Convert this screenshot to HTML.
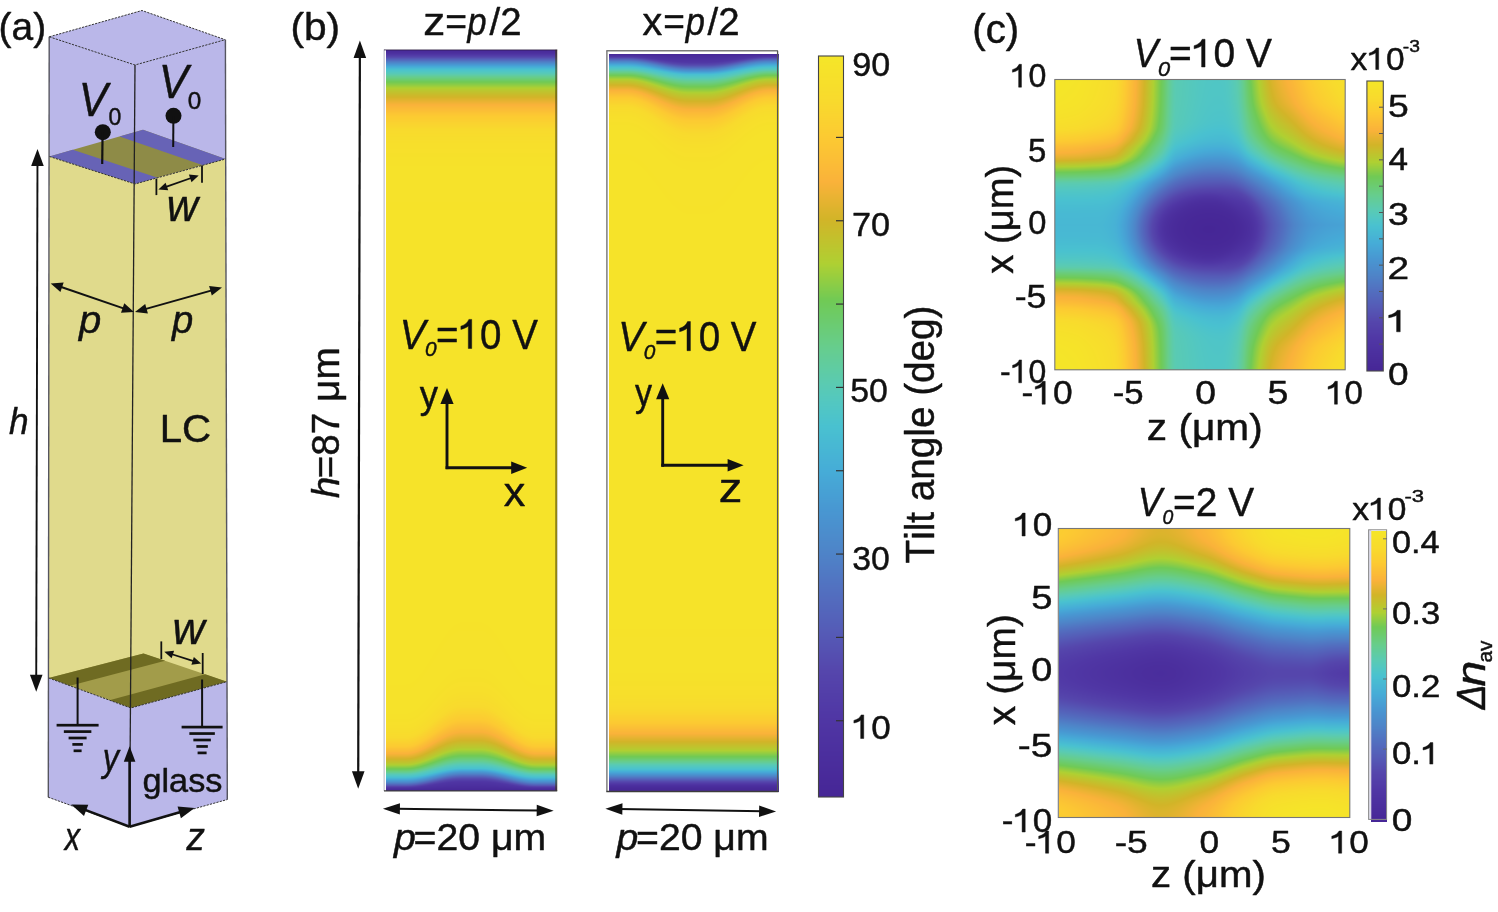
<!DOCTYPE html>
<html><head><meta charset="utf-8"><style>
html,body{margin:0;padding:0;background:#fff;}
#wrap{position:relative;width:1498px;height:912px;overflow:hidden;background:#fff;}
.hm{position:absolute;}
canvas{position:absolute;left:0;top:0;display:block;}
svg{position:absolute;left:0;top:0;}
text{font-family:"Liberation Sans",sans-serif;font-kerning:none;stroke:#111;stroke-width:0.45px;stroke-linejoin:round;}
.g1{stroke:#111;stroke-width:0.45px;stroke-linejoin:round;vector-effect:non-scaling-stroke;}
</style></head><body><div id="wrap">

<div class="hm" style="left:386px;top:50px;width:171px;height:741px;background:linear-gradient(to bottom,rgb(70,38,150) 0px,rgb(85,90,182) 8px,rgb(73,193,208) 20px,rgb(112,202,85) 32px,rgb(210,180,40) 47px,rgb(250,178,58) 56px,rgb(252,202,50) 66px,rgb(248,218,45) 80px,rgb(245,228,41) 110px,rgb(245,228,41) 653px,rgb(248,218,45) 677px,rgb(252,202,50) 688px,rgb(250,178,58) 696px,rgb(210,180,40) 703px,rgb(112,202,85) 715px,rgb(73,193,208) 725px,rgb(85,90,182) 735px,rgb(70,38,150) 741px)"><canvas id="b1" width="171" height="741"></canvas></div>
<div class="hm" style="left:609px;top:53.5px;width:170px;height:738px;background:linear-gradient(to bottom,rgb(70,38,150) 0px,rgb(85,90,182) 6px,rgb(73,193,208) 16px,rgb(112,202,85) 26px,rgb(210,180,40) 38px,rgb(250,178,58) 45px,rgb(252,202,50) 53px,rgb(248,218,45) 64px,rgb(245,228,41) 88px,rgb(245,228,41) 628px,rgb(248,218,45) 658px,rgb(252,202,50) 672px,rgb(250,178,58) 682px,rgb(210,180,40) 691px,rgb(112,202,85) 706px,rgb(73,193,208) 718px,rgb(85,90,182) 730px,rgb(70,38,150) 738px)"><canvas id="b2" width="170" height="738"></canvas></div>
<div class="hm" style="left:818.5px;top:56px;width:25px;height:741px;background:linear-gradient(to top,rgb(70,38,150) 0%,rgb(80,55,165) 11%,rgb(85,90,182) 22%,rgb(78,132,200) 33%,rgb(70,172,215) 44%,rgb(73,193,208) 50%,rgb(91,203,176) 56%,rgb(103,205,138) 61%,rgb(112,202,85) 67%,rgb(175,208,50) 72%,rgb(210,180,40) 78%,rgb(250,178,58) 83%,rgb(252,202,50) 89%,rgb(248,218,45) 94%,rgb(245,230,40) 100%)"><canvas id="cb" width="25" height="741"></canvas></div>
<div class="hm" style="left:1055px;top:79.7px;width:290px;height:290px;background:radial-gradient(circle 125px at 0% 0%,rgb(245,228,41) 0px,rgb(248,218,45) 45px,rgb(250,178,58) 62px,rgb(175,208,50) 76px,rgba(95,202,160,0) 100px),radial-gradient(circle 125px at 100% 0%,rgb(245,228,41) 0px,rgb(248,218,45) 45px,rgb(250,178,58) 62px,rgb(175,208,50) 76px,rgba(95,202,160,0) 100px),radial-gradient(circle 125px at 0% 100%,rgb(245,228,41) 0px,rgb(248,218,45) 45px,rgb(250,178,58) 62px,rgb(175,208,50) 76px,rgba(95,202,160,0) 100px),radial-gradient(circle 125px at 100% 100%,rgb(245,228,41) 0px,rgb(248,218,45) 45px,rgb(250,178,58) 62px,rgb(175,208,50) 76px,rgba(95,202,160,0) 100px),radial-gradient(ellipse 88px 78px at 53.5% 52%,rgb(72,40,152) 0%,rgb(76,48,158) 45%,rgb(85,90,182) 75%,rgb(72,165,212) 100%,rgb(80,195,200) 140%)"><canvas id="c1" width="290" height="290"></canvas></div>
<div class="hm" style="left:1058.6px;top:528.6px;width:291px;height:289px;background:linear-gradient(to bottom,rgb(250,190,55) 0%,rgb(210,180,40) 12%,rgb(112,202,85) 22%,rgb(73,193,208) 32%,rgb(82,112,192) 40%,rgb(75,45,158) 48%,rgb(75,45,158) 52%,rgb(82,112,192) 60%,rgb(73,193,208) 68%,rgb(112,202,85) 78%,rgb(210,180,40) 88%,rgb(250,190,55) 100%)"><canvas id="c2" width="291" height="289"></canvas></div>
<div class="hm" style="left:1367px;top:81px;width:16px;height:290px;background:linear-gradient(to top,rgb(70,38,150) 0%,rgb(80,55,165) 11%,rgb(85,90,182) 22%,rgb(78,132,200) 33%,rgb(70,172,215) 44%,rgb(73,193,208) 50%,rgb(91,203,176) 56%,rgb(103,205,138) 61%,rgb(112,202,85) 67%,rgb(175,208,50) 72%,rgb(210,180,40) 78%,rgb(250,178,58) 83%,rgb(252,202,50) 89%,rgb(248,218,45) 94%,rgb(245,230,40) 100%)"><canvas id="cb1" width="16" height="290"></canvas></div>
<div class="hm" style="left:1371.3px;top:531.3px;width:16px;height:291px;background:linear-gradient(to top,rgb(70,38,150) 0%,rgb(80,55,165) 11%,rgb(85,90,182) 22%,rgb(78,132,200) 33%,rgb(70,172,215) 44%,rgb(73,193,208) 50%,rgb(91,203,176) 56%,rgb(103,205,138) 61%,rgb(112,202,85) 67%,rgb(175,208,50) 72%,rgb(210,180,40) 78%,rgb(250,178,58) 83%,rgb(252,202,50) 89%,rgb(248,218,45) 94%,rgb(245,230,40) 100%)"><canvas id="cb2" width="16" height="291"></canvas></div>

<svg width="1498" height="912" viewBox="0 0 1498 912">
<polygon points="49.30,36.80 142.00,10.50 225.20,39.70 225.60,159.00 135.00,184.00 49.40,156.50" fill="#bab7e9" stroke="none" stroke-width="0"/>
<polygon points="49.40,156.50 143.00,129.80 225.60,159.00 135.00,184.00" fill="#8e8b47" stroke="none" stroke-width="0"/>
<polygon points="49.40,156.50 72.80,149.82 157.65,177.75 135.00,184.00" fill="#6763b6" stroke="none" stroke-width="0"/>
<polygon points="143.00,129.80 225.60,159.00 202.95,165.25 119.60,136.48" fill="#6763b6" stroke="none" stroke-width="0"/>
<polygon points="49.40,156.50 135.00,184.00 225.60,159.00 227.00,681.70 130.80,708.00 48.70,678.00" fill="#e0da8c" stroke="none" stroke-width="0"/>
<polygon points="48.70,678.00 143.50,653.40 227.00,681.70 130.80,708.00" fill="#a29c4a" stroke="none" stroke-width="0"/>
<polygon points="48.70,678.00 143.50,653.40 165.21,660.76 70.05,685.80" fill="#6f6b22" stroke="none" stroke-width="0"/>
<polygon points="130.80,708.00 227.00,681.70 205.29,674.34 109.45,700.20" fill="#6f6b22" stroke="none" stroke-width="0"/>
<polygon points="48.70,678.00 130.80,708.00 227.00,681.70 227.40,799.50 129.60,826.80 48.20,797.20" fill="#bab7e9" stroke="none" stroke-width="0"/>
<line x1="49.20" y1="36.80" x2="48.30" y2="797.20" stroke="#55555f" stroke-width="1.40"/>
<line x1="225.40" y1="39.70" x2="227.30" y2="799.50" stroke="#55555f" stroke-width="1.40"/>
<line x1="135.00" y1="65.00" x2="129.60" y2="826.80" stroke="#222" stroke-width="1.30"/>
<polyline points="49.3,36.8 142,10.5 225.2,39.7" fill="none" stroke="#333" stroke-width="1" stroke-dasharray="2.2,1.2"/>
<polyline points="49.3,36.8 135,65 225.2,39.7" fill="none" stroke="#333" stroke-width="1" stroke-dasharray="2.2,1.2"/>
<polyline points="49.4,156.5 135,184 225.6,159" fill="none" stroke="#333" stroke-width="1" stroke-dasharray="2.2,1.2"/>
<polyline points="48.7,678 130.8,708 227,681.7" fill="none" stroke="#333" stroke-width="1" stroke-dasharray="2.2,1.2"/>
<polyline points="48.2,797.2 129.6,826.8 227.4,799.5" fill="none" stroke="#333" stroke-width="1" stroke-dasharray="2.2,1.2"/>
<circle cx="102.8" cy="132.2" r="8" fill="#111"/>
<line x1="102.60" y1="132.00" x2="102.20" y2="164.00" stroke="#111" stroke-width="2.20"/>
<circle cx="173.5" cy="115.8" r="8" fill="#111"/>
<line x1="173.40" y1="116.00" x2="173.20" y2="147.00" stroke="#111" stroke-width="2.00"/>
<g transform="translate(78.76,115.80) scale(0.9021,1.0000)"><text x="0" y="0" font-size="48.00" font-style="italic" fill="#111">V</text></g>
<g transform="translate(108.40,124.80) scale(0.9588,1.0000)"><text x="0" y="0" font-size="24.00" font-style="normal" fill="#111">0</text></g>
<g transform="translate(158.68,98.20) scale(0.9211,1.0000)"><text x="0" y="0" font-size="48.00" font-style="italic" fill="#111">V</text></g>
<g transform="translate(187.85,109.00) scale(1.0111,1.0000)"><text x="0" y="0" font-size="24.00" font-style="normal" fill="#111">0</text></g>
<line x1="156.40" y1="178.70" x2="156.40" y2="195.10" stroke="#111" stroke-width="1.80"/>
<line x1="202.00" y1="165.50" x2="202.00" y2="182.80" stroke="#111" stroke-width="1.80"/>
<line x1="165.20" y1="187.04" x2="191.90" y2="177.76" stroke="#111" stroke-width="1.80"/>
<polygon points="198.70,175.40 191.51,182.13 188.89,174.57" fill="#111" stroke="none" stroke-width="0"/>
<polygon points="158.40,189.40 165.59,182.67 168.21,190.23" fill="#111" stroke="none" stroke-width="0"/>
<g transform="translate(166.85,221.40) scale(0.9829,1.0000)"><text x="0" y="0" font-size="44.00" font-style="italic" fill="#111">w</text></g>
<line x1="59.78" y1="286.52" x2="124.92" y2="308.88" stroke="#111" stroke-width="2.00"/>
<polygon points="134.00,312.00 121.03,312.83 124.27,303.37" fill="#111" stroke="none" stroke-width="0"/>
<polygon points="50.70,283.40 63.67,282.57 60.43,292.03" fill="#111" stroke="none" stroke-width="0"/>
<line x1="144.24" y1="309.40" x2="212.76" y2="290.10" stroke="#111" stroke-width="2.00"/>
<polygon points="222.00,287.50 211.80,295.57 209.09,285.94" fill="#111" stroke="none" stroke-width="0"/>
<polygon points="135.00,312.00 145.20,303.93 147.91,313.56" fill="#111" stroke="none" stroke-width="0"/>
<g transform="translate(79.00,333.00) scale(1.0278,1.0000)"><text x="0" y="0" font-size="39.00" font-style="italic" fill="#111">p</text></g>
<g transform="translate(171.95,333.00) scale(0.9811,1.0000)"><text x="0" y="0" font-size="39.00" font-style="italic" fill="#111">p</text></g>
<line x1="36.23" y1="678.10" x2="37.47" y2="162.60" stroke="#111" stroke-width="1.90"/>
<polygon points="37.50,149.00 43.76,166.02 31.16,165.98" fill="#111" stroke="none" stroke-width="0"/>
<polygon points="36.20,691.70 29.94,674.68 42.54,674.72" fill="#111" stroke="none" stroke-width="0"/>
<g transform="translate(9.01,434.00) scale(0.9349,1.0000)"><text x="0" y="0" font-size="37.70" font-style="italic" fill="#111">h</text></g>
<g transform="translate(159.70,442.00) scale(1.0264,1.0000)"><text x="0" y="0" font-size="39.20" font-style="normal" fill="#111">LC</text></g>
<line x1="161.30" y1="641.40" x2="161.30" y2="659.00" stroke="#111" stroke-width="1.80"/>
<line x1="202.70" y1="653.00" x2="202.70" y2="674.00" stroke="#111" stroke-width="1.80"/>
<line x1="171.16" y1="653.99" x2="194.34" y2="661.41" stroke="#111" stroke-width="1.80"/>
<polygon points="201.20,663.60 191.41,664.67 193.85,657.05" fill="#111" stroke="none" stroke-width="0"/>
<polygon points="164.30,651.80 174.09,650.73 171.65,658.35" fill="#111" stroke="none" stroke-width="0"/>
<g transform="translate(172.38,644.40) scale(1.0142,1.0000)"><text x="0" y="0" font-size="44.00" font-style="italic" fill="#111">w</text></g>
<line x1="77.60" y1="677.50" x2="77.60" y2="725.20" stroke="#111" stroke-width="2.00"/>
<rect x="56.60" y="723.85" width="42.00" height="2.70" fill="#111"/>
<rect x="63.85" y="730.25" width="27.50" height="2.70" fill="#111"/>
<rect x="68.60" y="736.65" width="18.00" height="2.70" fill="#111"/>
<rect x="72.35" y="743.05" width="10.50" height="2.70" fill="#111"/>
<rect x="73.60" y="749.45" width="8.00" height="2.70" fill="#111"/>
<line x1="202.10" y1="679.50" x2="202.10" y2="727.10" stroke="#111" stroke-width="2.00"/>
<rect x="181.60" y="725.75" width="41.00" height="2.70" fill="#111"/>
<rect x="189.35" y="732.20" width="25.50" height="2.70" fill="#111"/>
<rect x="193.35" y="738.65" width="17.50" height="2.70" fill="#111"/>
<rect x="196.35" y="745.10" width="11.50" height="2.70" fill="#111"/>
<rect x="197.60" y="751.55" width="9.00" height="2.70" fill="#111"/>
<line x1="129.60" y1="826.80" x2="129.60" y2="758.60" stroke="#111" stroke-width="2.60"/>
<polygon points="129.60,746.20 135.40,761.70 123.80,761.70" fill="#111" stroke="none" stroke-width="0"/>
<line x1="129.60" y1="826.80" x2="83.16" y2="809.15" stroke="#111" stroke-width="2.60"/>
<polygon points="71.20,804.60 88.29,804.68 84.02,815.89" fill="#111" stroke="none" stroke-width="0"/>
<line x1="129.60" y1="826.80" x2="182.31" y2="811.47" stroke="#111" stroke-width="2.60"/>
<polygon points="194.60,807.90 180.91,818.13 177.56,806.61" fill="#111" stroke="none" stroke-width="0"/>
<g transform="translate(102.74,771.10) scale(0.8542,1.0000)"><text x="0" y="0" font-size="38.00" font-style="italic" fill="#111">y</text></g>
<g transform="translate(142.46,791.70) scale(1.0381,1.0000)"><text x="0" y="0" font-size="33.00" font-style="normal" fill="#111">glass</text></g>
<g transform="translate(64.82,849.80) scale(0.7836,1.0000)"><text x="0" y="0" font-size="39.00" font-style="italic" fill="#111">x</text></g>
<g transform="translate(186.62,850.40) scale(0.9678,1.0000)"><text x="0" y="0" font-size="38.00" font-style="italic" fill="#111">z</text></g>
<g transform="translate(-1.41,39.80) scale(0.9856,1.0000)"><text x="0" y="0" font-size="39.50" font-style="normal" fill="#111">(a)</text></g>
<g transform="translate(290.38,39.90) scale(1.0305,1.0000)"><text x="0" y="0" font-size="39.50" font-style="normal" fill="#111">(b)</text></g>
<g transform="translate(423.22,34.90) scale(1.1124,1.0000)"><text x="0" y="0" font-size="39.50" font-style="normal" fill="#111">z</text></g>
<g transform="translate(445.18,34.90) scale(0.9432,1.0000)"><text x="0" y="0" font-size="39.50" font-style="normal" fill="#111">=</text></g>
<g transform="translate(467.55,34.90) scale(0.8672,1.0000)"><text x="0" y="0" font-size="39.50" font-style="italic" fill="#111">p</text></g>
<g transform="translate(489.50,34.90) scale(0.9724,1.0000)"><text x="0" y="0" font-size="39.50" font-style="normal" fill="#111">/2</text></g>
<g transform="translate(642.56,34.90) scale(0.9957,1.0000)"><text x="0" y="0" font-size="39.50" font-style="normal" fill="#111">x</text></g>
<g transform="translate(663.19,34.90) scale(0.9380,1.0000)"><text x="0" y="0" font-size="39.50" font-style="normal" fill="#111">=</text></g>
<g transform="translate(685.86,34.90) scale(0.8718,1.0000)"><text x="0" y="0" font-size="39.50" font-style="italic" fill="#111">p</text></g>
<g transform="translate(707.50,34.90) scale(0.9724,1.0000)"><text x="0" y="0" font-size="39.50" font-style="normal" fill="#111">/2</text></g>

<line x1="384.20" y1="49.60" x2="384.20" y2="791.00" stroke="#cfcfd8" stroke-width="1.60"/>
<line x1="384.00" y1="49.80" x2="557.20" y2="49.80" stroke="rgba(40,25,60,0.6)" stroke-width="1.30"/>
<line x1="556.30" y1="49.70" x2="556.30" y2="791.00" stroke="rgba(60,52,0,0.55)" stroke-width="2.20"/>
<line x1="384.00" y1="790.90" x2="557.20" y2="790.90" stroke="#3c3c3c" stroke-width="1.40"/>
<line x1="606.90" y1="50.70" x2="606.90" y2="791.50" stroke="#6a6a6a" stroke-width="1.30"/>
<line x1="606.30" y1="50.70" x2="777.90" y2="50.70" stroke="#7a7a7a" stroke-width="1.50"/>
<line x1="777.60" y1="50.70" x2="777.60" y2="791.50" stroke="#555" stroke-width="1.30"/>
<line x1="606.30" y1="791.50" x2="778.50" y2="791.50" stroke="#3c3c3c" stroke-width="1.40"/>
<g transform="translate(399.65,348.50) scale(0.9224,1.0000)"><text x="0" y="0" font-size="42.00" font-style="italic" fill="#111">V</text></g>
<g transform="translate(425.10,356.30) scale(1.0409,1.0000)"><text x="0" y="0" font-size="20.00" font-style="italic" fill="#111">0</text></g>
<g transform="translate(436.12,348.50) scale(0.9173,1.0000)"><text y="0" font-size="42.00" font-style="normal" fill="#111"><tspan x="0.00">=</tspan><tspan x="47.89">0 V</tspan></text><path class="g1" d="M515 0L515 1100C450 1040 330 980 120 930L120 1090C330 1150 470 1250 545 1420L696 1420L696 0Z" fill="#111" transform="translate(24.53,0) scale(0.02051,-0.02051)"/></g>
<g transform="translate(618.35,350.70) scale(0.9224,1.0000)"><text x="0" y="0" font-size="42.00" font-style="italic" fill="#111">V</text></g>
<g transform="translate(643.80,358.50) scale(1.0409,1.0000)"><text x="0" y="0" font-size="20.00" font-style="italic" fill="#111">0</text></g>
<g transform="translate(654.82,350.70) scale(0.9173,1.0000)"><text y="0" font-size="42.00" font-style="normal" fill="#111"><tspan x="0.00">=</tspan><tspan x="47.89">0 V</tspan></text><path class="g1" d="M515 0L515 1100C450 1040 330 980 120 930L120 1090C330 1150 470 1250 545 1420L696 1420L696 0Z" fill="#111" transform="translate(24.53,0) scale(0.02051,-0.02051)"/></g>
<line x1="447.00" y1="469.10" x2="447.00" y2="400.80" stroke="#111" stroke-width="2.90"/>
<polygon points="447.00,388.00 453.60,404.00 440.40,404.00" fill="#111" stroke="none" stroke-width="0"/>
<line x1="445.60" y1="467.70" x2="514.40" y2="467.70" stroke="#111" stroke-width="2.90"/>
<polygon points="527.20,467.70 511.20,473.90 511.20,461.50" fill="#111" stroke="none" stroke-width="0"/>
<g transform="translate(503.82,506.30) scale(1.0721,1.0000)"><text x="0" y="0" font-size="40.00" font-style="normal" fill="#111">x</text></g>
<line x1="662.70" y1="466.70" x2="662.70" y2="396.10" stroke="#111" stroke-width="2.90"/>
<polygon points="662.70,383.30 669.30,399.30 656.10,399.30" fill="#111" stroke="none" stroke-width="0"/>
<line x1="661.30" y1="465.30" x2="730.80" y2="465.30" stroke="#111" stroke-width="2.90"/>
<polygon points="743.60,465.30 727.60,471.50 727.60,459.10" fill="#111" stroke="none" stroke-width="0"/>
<g transform="translate(718.79,501.50) scale(1.1778,1.0000)"><text x="0" y="0" font-size="40.00" font-style="normal" fill="#111">z</text></g>
<g transform="translate(419.71,408.00) scale(0.9611,1.0000)"><text x="0" y="0" font-size="38.00" font-style="normal" fill="#111">y</text></g>
<g transform="translate(634.92,406.20) scale(0.8974,1.0000)"><text x="0" y="0" font-size="38.00" font-style="normal" fill="#111">y</text></g>
<line x1="358.23" y1="774.70" x2="359.87" y2="54.40" stroke="#111" stroke-width="2.20"/>
<polygon points="359.90,40.40 366.16,57.91 353.56,57.89" fill="#111" stroke="none" stroke-width="0"/>
<polygon points="358.20,788.70 351.94,771.19 364.54,771.21" fill="#111" stroke="none" stroke-width="0"/>
<text transform="translate(338.5,497.7) rotate(-90)" font-size="1"></text>
<g transform="translate(338.50,498.35) rotate(-90) scale(1.0102,1.0000)"><text x="0" y="0" font-size="38.50" font-style="italic" fill="#111">h</text></g>
<g transform="translate(338.50,478.39) rotate(-90) scale(1.0068,1.0000)"><text x="0" y="0" font-size="38.50" font-style="normal" fill="#111">=87 μm</text></g>
<line x1="396.50" y1="808.86" x2="540.10" y2="810.54" stroke="#111" stroke-width="2.00"/>
<polygon points="553.70,810.70 536.63,816.20 536.77,804.80" fill="#111" stroke="none" stroke-width="0"/>
<polygon points="382.90,808.70 399.97,803.20 399.83,814.60" fill="#111" stroke="none" stroke-width="0"/>
<line x1="619.00" y1="808.92" x2="762.50" y2="811.28" stroke="#111" stroke-width="2.00"/>
<polygon points="776.10,811.50 759.01,816.92 759.20,805.52" fill="#111" stroke="none" stroke-width="0"/>
<polygon points="605.40,808.70 622.49,803.28 622.30,814.68" fill="#111" stroke="none" stroke-width="0"/>
<g transform="translate(393.98,850.30) scale(1.0588,1.0000)"><text x="0" y="0" font-size="37.00" font-style="italic" fill="#111">p</text></g>
<g transform="translate(413.59,850.30) scale(1.0592,1.0000)"><text x="0" y="0" font-size="37.00" font-style="normal" fill="#111">=20 μm</text></g>
<g transform="translate(616.38,850.30) scale(1.0588,1.0000)"><text x="0" y="0" font-size="37.00" font-style="italic" fill="#111">p</text></g>
<g transform="translate(635.99,850.30) scale(1.0592,1.0000)"><text x="0" y="0" font-size="37.00" font-style="normal" fill="#111">=20 μm</text></g>

<rect x="818.5" y="56" width="25" height="741" fill="none" stroke="#444" stroke-width="1.1"/>
<line x1="836.00" y1="720.73" x2="843.50" y2="720.73" stroke="#333" stroke-width="1.20"/>
<line x1="836.00" y1="637.40" x2="843.50" y2="637.40" stroke="#333" stroke-width="1.20"/>
<line x1="836.00" y1="554.07" x2="843.50" y2="554.07" stroke="#333" stroke-width="1.20"/>
<line x1="836.00" y1="470.74" x2="843.50" y2="470.74" stroke="#333" stroke-width="1.20"/>
<line x1="836.00" y1="387.41" x2="843.50" y2="387.41" stroke="#333" stroke-width="1.20"/>
<line x1="836.00" y1="304.08" x2="843.50" y2="304.08" stroke="#333" stroke-width="1.20"/>
<line x1="836.00" y1="220.75" x2="843.50" y2="220.75" stroke="#333" stroke-width="1.20"/>
<line x1="836.00" y1="137.42" x2="843.50" y2="137.42" stroke="#333" stroke-width="1.20"/>
<g transform="translate(852.20,75.50) scale(1.0030,1.0000)"><text x="0" y="0" font-size="34.00" font-style="normal" fill="#111">90</text></g>
<g transform="translate(852.04,235.90) scale(1.0073,1.0000)"><text x="0" y="0" font-size="34.00" font-style="normal" fill="#111">70</text></g>
<g transform="translate(850.14,402.30) scale(0.9963,1.0000)"><text x="0" y="0" font-size="34.00" font-style="normal" fill="#111">50</text></g>
<g transform="translate(852.21,569.90) scale(0.9945,1.0000)"><text x="0" y="0" font-size="34.00" font-style="normal" fill="#111">30</text></g>
<g transform="translate(851.83,738.50) scale(1.0324,1.0000)"><text y="0" font-size="34.00" font-style="normal" fill="#111"><tspan x="18.91">0</tspan></text><path class="g1" d="M515 0L515 1100C450 1040 330 980 120 930L120 1090C330 1150 470 1250 545 1420L696 1420L696 0Z" fill="#111" transform="translate(0.00,0) scale(0.01660,-0.01660)"/></g>
<g transform="translate(934.20,563.47) rotate(-90) scale(0.9669,1.0000)"><text x="0" y="0" font-size="40.00" font-style="normal" fill="#111">Tilt angle (deg)</text></g>
<g transform="translate(972.31,42.60) scale(1.0053,1.0000)"><text x="0" y="0" font-size="40.00" font-style="normal" fill="#111">(c)</text></g>
<g transform="translate(1133.85,67.00) scale(0.9116,1.0000)"><text x="0" y="0" font-size="40.00" font-style="italic" fill="#111">V</text></g>
<g transform="translate(1158.05,75.80) scale(1.0587,1.0000)"><text x="0" y="0" font-size="20.60" font-style="italic" fill="#111">0</text></g>
<g transform="translate(1169.10,67.00) scale(0.9728,1.0000)"><text y="0" font-size="40.00" font-style="normal" fill="#111"><tspan x="0.00">=</tspan><tspan x="45.61">0 V</tspan></text><path class="g1" d="M515 0L515 1100C450 1040 330 980 120 930L120 1090C330 1150 470 1250 545 1420L696 1420L696 0Z" fill="#111" transform="translate(23.36,0) scale(0.01953,-0.01953)"/></g>

<rect x="1366.9" y="81" width="16.4" height="290" fill="none" stroke="#4a4a4a" stroke-width="1.1"/>
<line x1="1379.00" y1="107.20" x2="1383.00" y2="107.20" stroke="#555" stroke-width="1.00"/>
<line x1="1379.00" y1="133.53" x2="1383.00" y2="133.53" stroke="#555" stroke-width="1.00"/>
<line x1="1379.00" y1="159.85" x2="1383.00" y2="159.85" stroke="#555" stroke-width="1.00"/>
<line x1="1379.00" y1="186.18" x2="1383.00" y2="186.18" stroke="#555" stroke-width="1.00"/>
<line x1="1379.00" y1="212.50" x2="1383.00" y2="212.50" stroke="#555" stroke-width="1.00"/>
<line x1="1379.00" y1="238.82" x2="1383.00" y2="238.82" stroke="#555" stroke-width="1.00"/>
<line x1="1379.00" y1="265.15" x2="1383.00" y2="265.15" stroke="#555" stroke-width="1.00"/>
<line x1="1379.00" y1="291.48" x2="1383.00" y2="291.48" stroke="#555" stroke-width="1.00"/>
<line x1="1379.00" y1="317.80" x2="1383.00" y2="317.80" stroke="#555" stroke-width="1.00"/>
<line x1="1379.00" y1="344.12" x2="1383.00" y2="344.12" stroke="#555" stroke-width="1.00"/>
<rect x="1368.6" y="529.8" width="2.7" height="289.6" fill="#dcdbe8"/>
<rect x="1368.6" y="529.8" width="18" height="289.6" fill="none" stroke="#8a8a8a" stroke-width="1.0"/>
<line x1="1383.00" y1="749.10" x2="1387.00" y2="749.10" stroke="#666" stroke-width="0.90"/>
<line x1="1383.00" y1="679.00" x2="1387.00" y2="679.00" stroke="#666" stroke-width="0.90"/>
<line x1="1383.00" y1="608.90" x2="1387.00" y2="608.90" stroke="#666" stroke-width="0.90"/>
<line x1="1383.00" y1="538.80" x2="1387.00" y2="538.80" stroke="#666" stroke-width="0.90"/>
<rect x="1054.8" y="79.5" width="290.4" height="290.3" fill="none" stroke="#777" stroke-width="1.1"/>
<rect x="1058.3" y="528.5" width="291.5" height="289" fill="none" stroke="#777" stroke-width="1.1"/>
<g transform="translate(1010.56,87.20) scale(0.9725,1.0000)"><text y="0" font-size="33.00" font-style="normal" fill="#111"><tspan x="18.35">0</tspan></text><path class="g1" d="M515 0L515 1100C450 1040 330 980 120 930L120 1090C330 1150 470 1250 545 1420L696 1420L696 0Z" fill="#111" transform="translate(0.00,0) scale(0.01611,-0.01611)"/></g>
<g transform="translate(1028.08,161.50) scale(0.9971,1.0000)"><text x="0" y="0" font-size="33.00" font-style="normal" fill="#111">5</text></g>
<g transform="translate(1028.13,234.00) scale(0.9889,1.0000)"><text x="0" y="0" font-size="33.00" font-style="normal" fill="#111">0</text></g>
<g transform="translate(1014.71,308.00) scale(1.0834,1.0000)"><text x="0" y="0" font-size="33.00" font-style="normal" fill="#111">-5</text></g>
<g transform="translate(1000.08,382.80) scale(0.9680,1.0000)"><text y="0" font-size="33.00" font-style="normal" fill="#111"><tspan x="0.00">-</tspan><tspan x="29.34">0</tspan></text><path class="g1" d="M515 0L515 1100C450 1040 330 980 120 930L120 1090C330 1150 470 1250 545 1420L696 1420L696 0Z" fill="#111" transform="translate(10.99,0) scale(0.01611,-0.01611)"/></g>
<g transform="translate(1021.43,404.20) scale(1.0725,1.0000)"><text y="0" font-size="33.00" font-style="normal" fill="#111"><tspan x="0.00">-</tspan><tspan x="29.34">0</tspan></text><path class="g1" d="M515 0L515 1100C450 1040 330 980 120 930L120 1090C330 1150 470 1250 545 1420L696 1420L696 0Z" fill="#111" transform="translate(10.99,0) scale(0.01611,-0.01611)"/></g>
<g transform="translate(1112.76,404.20) scale(1.0532,1.0000)"><text x="0" y="0" font-size="33.00" font-style="normal" fill="#111">-5</text></g>
<g transform="translate(1195.25,404.20) scale(1.1284,1.0000)"><text x="0" y="0" font-size="33.00" font-style="normal" fill="#111">0</text></g>
<g transform="translate(1267.50,404.20) scale(1.1377,1.0000)"><text x="0" y="0" font-size="33.00" font-style="normal" fill="#111">5</text></g>
<g transform="translate(1326.19,404.20) scale(0.9999,1.0000)"><text y="0" font-size="33.00" font-style="normal" fill="#111"><tspan x="18.35">0</tspan></text><path class="g1" d="M515 0L515 1100C450 1040 330 980 120 930L120 1090C330 1150 470 1250 545 1420L696 1420L696 0Z" fill="#111" transform="translate(0.00,0) scale(0.01611,-0.01611)"/></g>
<g transform="translate(1146.85,440.20) scale(1.0976,1.0000)"><text x="0" y="0" font-size="37.00" font-style="normal" fill="#111">z (μm)</text></g>
<g transform="translate(1012.80,273.63) rotate(-90) scale(0.9796,1.0000)"><text x="0" y="0" font-size="39.00" font-style="normal" fill="#111">x (μm)</text></g>
<g transform="translate(1387.91,116.50) scale(1.2043,1.0000)"><text x="0" y="0" font-size="31.00" font-style="normal" fill="#111">5</text></g>
<g transform="translate(1388.59,170.00) scale(1.1331,1.0000)"><text x="0" y="0" font-size="31.00" font-style="normal" fill="#111">4</text></g>
<g transform="translate(1387.98,225.20) scale(1.2043,1.0000)"><text x="0" y="0" font-size="31.00" font-style="normal" fill="#111">3</text></g>
<g transform="translate(1387.45,278.60) scale(1.2533,1.0000)"><text x="0" y="0" font-size="31.00" font-style="normal" fill="#111">2</text></g>
<g transform="translate(1386.27,331.80) scale(1.3243,1.0000)"><path class="g1" d="M515 0L515 1100C450 1040 330 980 120 930L120 1090C330 1150 470 1250 545 1420L696 1420L696 0Z" fill="#111" transform="translate(0.00,0) scale(0.01514,-0.01514)"/></g>
<g transform="translate(1387.95,385.20) scale(1.1944,1.0000)"><text x="0" y="0" font-size="31.00" font-style="normal" fill="#111">0</text></g>
<g transform="translate(1350.62,69.50) scale(1.0780,1.0000)"><text y="0" font-size="31.00" font-style="normal" fill="#111"><tspan x="0.00">x</tspan><tspan x="32.74">0</tspan></text><path class="g1" d="M515 0L515 1100C450 1040 330 980 120 930L120 1090C330 1150 470 1250 545 1420L696 1420L696 0Z" fill="#111" transform="translate(15.50,0) scale(0.01514,-0.01514)"/></g>
<g transform="translate(1402.75,51.70) scale(1.1312,1.0000)"><text x="0" y="0" font-size="17.00" font-style="normal" fill="#111">-3</text></g>
<g transform="translate(1137.85,515.50) scale(0.9116,1.0000)"><text x="0" y="0" font-size="40.00" font-style="italic" fill="#111">V</text></g>
<g transform="translate(1162.56,523.60) scale(0.9432,1.0000)"><text x="0" y="0" font-size="20.60" font-style="italic" fill="#111">0</text></g>
<g transform="translate(1173.10,515.50) scale(0.9708,1.0000)"><text x="0" y="0" font-size="40.00" font-style="normal" fill="#111">=2 V</text></g>
<g transform="translate(1013.23,536.00) scale(1.0637,1.0000)"><text y="0" font-size="33.00" font-style="normal" fill="#111"><tspan x="18.35">0</tspan></text><path class="g1" d="M515 0L515 1100C450 1040 330 980 120 930L120 1090C330 1150 470 1250 545 1420L696 1420L696 0Z" fill="#111" transform="translate(0.00,0) scale(0.01611,-0.01611)"/></g>
<g transform="translate(1031.27,608.60) scale(1.1568,1.0000)"><text x="0" y="0" font-size="33.00" font-style="normal" fill="#111">5</text></g>
<g transform="translate(1031.32,681.00) scale(1.1474,1.0000)"><text x="0" y="0" font-size="33.00" font-style="normal" fill="#111">0</text></g>
<g transform="translate(1017.87,756.80) scale(1.1816,1.0000)"><text x="0" y="0" font-size="33.00" font-style="normal" fill="#111">-5</text></g>
<g transform="translate(1001.64,832.00) scale(1.0614,1.0000)"><text y="0" font-size="33.00" font-style="normal" fill="#111"><tspan x="0.00">-</tspan><tspan x="29.34">0</tspan></text><path class="g1" d="M515 0L515 1100C450 1040 330 980 120 930L120 1090C330 1150 470 1250 545 1420L696 1420L696 0Z" fill="#111" transform="translate(10.99,0) scale(0.01611,-0.01611)"/></g>
<g transform="translate(1024.83,853.20) scale(1.1061,1.0000)"><text y="0" font-size="32.00" font-style="normal" fill="#111"><tspan x="0.00">-</tspan><tspan x="28.45">0</tspan></text><path class="g1" d="M515 0L515 1100C450 1040 330 980 120 930L120 1090C330 1150 470 1250 545 1420L696 1420L696 0Z" fill="#111" transform="translate(10.66,0) scale(0.01562,-0.01562)"/></g>
<g transform="translate(1114.64,853.20) scale(1.1640,1.0000)"><text x="0" y="0" font-size="32.00" font-style="normal" fill="#111">-5</text></g>
<g transform="translate(1199.52,853.20) scale(1.1048,1.0000)"><text x="0" y="0" font-size="32.00" font-style="normal" fill="#111">0</text></g>
<g transform="translate(1271.07,853.20) scale(1.1139,1.0000)"><text x="0" y="0" font-size="32.00" font-style="normal" fill="#111">5</text></g>
<g transform="translate(1329.72,853.20) scale(1.1001,1.0000)"><text y="0" font-size="32.00" font-style="normal" fill="#111"><tspan x="17.80">0</tspan></text><path class="g1" d="M515 0L515 1100C450 1040 330 980 120 930L120 1090C330 1150 470 1250 545 1420L696 1420L696 0Z" fill="#111" transform="translate(0.00,0) scale(0.01562,-0.01562)"/></g>
<g transform="translate(1151.07,887.20) scale(1.0878,1.0000)"><text x="0" y="0" font-size="37.00" font-style="normal" fill="#111">z (μm)</text></g>
<g transform="translate(1014.90,725.14) rotate(-90) scale(1.0119,1.0000)"><text x="0" y="0" font-size="38.50" font-style="normal" fill="#111">x (μm)</text></g>
<g transform="translate(1391.96,552.80) scale(1.1080,1.0000)"><text x="0" y="0" font-size="31.00" font-style="normal" fill="#111">0.4</text></g>
<g transform="translate(1391.94,623.90) scale(1.1204,1.0000)"><text x="0" y="0" font-size="31.00" font-style="normal" fill="#111">0.3</text></g>
<g transform="translate(1391.94,697.00) scale(1.1259,1.0000)"><text x="0" y="0" font-size="31.00" font-style="normal" fill="#111">0.2</text></g>
<g transform="translate(1391.94,764.10) scale(1.1246,1.0000)"><text y="0" font-size="31.00" font-style="normal" fill="#111"><tspan x="0.00">0.</tspan></text><path class="g1" d="M515 0L515 1100C450 1040 330 980 120 930L120 1090C330 1150 470 1250 545 1420L696 1420L696 0Z" fill="#111" transform="translate(25.85,0) scale(0.01514,-0.01514)"/></g>
<g transform="translate(1391.85,831.30) scale(1.1944,1.0000)"><text x="0" y="0" font-size="31.00" font-style="normal" fill="#111">0</text></g>
<g transform="translate(1352.22,519.50) scale(1.0821,1.0000)"><text y="0" font-size="31.00" font-style="normal" fill="#111"><tspan x="0.00">x</tspan><tspan x="32.74">0</tspan></text><path class="g1" d="M515 0L515 1100C450 1040 330 980 120 930L120 1090C330 1150 470 1250 545 1420L696 1420L696 0Z" fill="#111" transform="translate(15.50,0) scale(0.01514,-0.01514)"/></g>
<g transform="translate(1404.42,501.50) scale(1.2929,1.0000)"><text x="0" y="0" font-size="17.00" font-style="normal" fill="#111">-3</text></g>
<g transform="translate(1485.00,709.18) rotate(-90) scale(0.9218,1.0000)"><text x="0" y="0" font-size="40.00" font-style="italic" fill="#111">Δ</text></g>
<g transform="translate(1485.00,686.47) rotate(-90) scale(1.1586,1.0000)"><text x="0" y="0" font-size="40.00" font-style="italic" fill="#111">n</text></g>
<g transform="translate(1492.20,662.49) rotate(-90) scale(1.0188,1.0000)"><text x="0" y="0" font-size="20.50" font-style="normal" fill="#111">av</text></g>
</svg>
</div>
<script>
var CM=[[0.00,70,38,150],[0.11,80,55,165],[0.17,85,70,172],[0.22,85,90,182],[0.28,82,112,192],[0.33,78,132,200],[0.39,72,152,210],[0.44,70,172,215],[0.50,73,193,208],[0.53,82,199,194],[0.56,91,203,176],[0.61,103,205,138],[0.67,112,202,85],[0.72,175,208,50],[0.78,210,180,40],[0.83,250,178,58],[0.89,252,202,50],[0.94,248,218,45],[1.00,245,230,40]];
function cmap(v){if(v<=0)return CM[0].slice(1);if(v>=1)return CM[CM.length-1].slice(1);
for(var i=1;i<CM.length;i++){if(v<=CM[i][0]){var a=CM[i-1],b=CM[i],t=(v-a[0])/(b[0]-a[0]);return [a[1]+(b[1]-a[1])*t,a[2]+(b[2]-a[2])*t,a[3]+(b[3]-a[3])*t];}}}

function mkspline(tab){var n=tab.length,xs=[],ys=[],d=[],m=[];for(var i=0;i<n;i++){xs.push(tab[i][0]);ys.push(tab[i][1]);}
for(var i=0;i<n-1;i++)d.push((ys[i+1]-ys[i])/(xs[i+1]-xs[i]));
m.push(d[0]);for(var i=1;i<n-1;i++){if(d[i-1]*d[i]<=0)m.push(0);else{var w1=2*(xs[i+1]-xs[i])+(xs[i]-xs[i-1]),w2=(xs[i+1]-xs[i])+2*(xs[i]-xs[i-1]);m.push((w1+w2)/(w1/d[i-1]+w2/d[i]));}}m.push(d[n-2]);
return function(x){if(x<=xs[0])return ys[0];if(x>=xs[n-1])return ys[n-1];var i=0;while(x>xs[i+1])i++;var h=xs[i+1]-xs[i],t=(x-xs[i])/h,t2=t*t,t3=t2*t;
return (2*t3-3*t2+1)*ys[i]+(t3-2*t2+t)*h*m[i]+(-2*t3+3*t2)*ys[i+1]+(t3-t2)*h*m[i+1];};}
var _sc={},_sn=0;function sinterp(tab,x){var k=tab.__id;if(!k){k=tab.__id='t'+(++_sn);_sc[k]=mkspline(tab);}return _sc[k](x);}
function interp(tab,x){if(x<=tab[0][0])return tab[0][1];for(var i=1;i<tab.length;i++){if(x<=tab[i][0]){var a=tab[i-1],b=tab[i];return a[1]+(b[1]-a[1])*(x-a[0])/(b[0]-a[0]);}}return tab[tab.length-1][1];}
var PT=[[0,0.01],[3.3,0.06],[8.3,0.2],[12,0.31],[15,0.39],[19.7,0.5],[24,0.55],[27,0.6],[32,0.667],[36,0.7],[40,0.735],[47,0.778],[55.7,0.833],[66,0.889],[80,0.94],[95,0.965],[120,0.98],[200,0.985]];
function P(d){return interp(PT,d);}
function bump(u,a,b){u=Math.abs(u);if(u<=a)return 1;if(u>=b)return 0;return 0.5*(1+Math.cos(Math.PI*(u-a)/(b-a)));}
function draw(id,f){try{draw0(id,f);}catch(e){}}
function draw0(id,f){var c=document.getElementById(id),ctx=c.getContext('2d'),w=c.width,h=c.height,im=ctx.createImageData(w,h),d=im.data;
for(var j=0;j<h;j++)for(var i=0;i<w;i++){var col=cmap(f(i+0.5,j+0.5,w,h));var k=(j*w+i)*4;d[k]=col[0];d[k+1]=col[1];d[k+2]=col[2];d[k+3]=255;}ctx.putImageData(im,0,0);}
var PV=[0.01,0.06,0.1,0.2,0.31,0.39,0.5,0.55,0.6,0.667,0.7,0.735,0.778,0.833,0.889,0.94,0.965,0.98,0.985];
var DE=[0,2.4,3.8,6.6,10.5,14,19.7,24,27,32,36,40,47,55.7,66,80,95,120,200];
var DC=[0,4,8,11.8,15,17.5,20.7,24.5,27.5,32.5,36.5,40.5,47,56,66.5,80,95,120,200];
function prof(d,b,se,sc){ // d distance, b bump weight
 var prev=0;for(var k=0;k<PV.length;k++){var dk=(1-b)*se*DE[k]+b*sc*DC[k];if(d<=dk){if(k==0)return PV[0];var t=(d-prev)/(dk-prev);return PV[k-1]+(PV[k]-PV[k-1])*t;}prev=dk;}return PV[PV.length-1];}
// b1: canvas at (386,50)
draw('b1',function(i,j){var x=386+i,y=50+j;var vt=P(y-49.7);var b=bump(x-471,8,66);var vb=prof(790.2-y,b,0.66,1.05);return Math.min(vt,vb);});
// b2: canvas at (609,53.5)
draw('b2',function(i,j){var x=609+i,y=53.5+j;var b=bump(x-698,8,72);var vt=prof(y-53.5,b,0.66,1.0);var vb=P(Math.max(0,791-y-2.5));return Math.min(vt,vb);});
draw('cb',function(i,j,w,h){return 1-(j)/(h);});
draw('cb1',function(i,j,w,h){return 1-(j)/(h);});
draw('cb2',function(i,j,w,h){return 1-(j)/(h);});
// c1
function ss(t){t=Math.max(0,Math.min(1,t));return t*t*(3-2*t);}
var SXL=[[0,0],[0.8,0.012],[1.8,0.06],[2.87,0.17],[3.3,0.29],[3.65,0.38],[4.2,0.52],[4.5,0.6],[4.9,0.67],[5.3,0.72],[5.8,0.8],[6.2,0.85],[6.7,0.91],[7.5,0.955],[8.5,0.985],[10,1]];
var SXR=[[0,0],[1.5,0.08],[2.2,0.177],[3.0,0.29],[3.85,0.452],[4.5,0.57],[5.1,0.66],[6.1,0.77],[7.5,0.88],[8.5,0.95],[10,1]];
var SZ=[[-10,1],[-8.5,0.985],[-7.5,0.96],[-6.6,0.935],[-5.9,0.9],[-5.0,0.77],[-4.3,0.66],[-3.7,0.56],[-3.1,0.45],[-2.7,0.38],[-1.6,0.17],[0,0.16],[1.5,0.18],[2.5,0.25],[3.5,0.45],[4.27,0.57],[4.96,0.66],[6.4,0.76],[7.9,0.87],[9.4,0.95],[10,0.98]];
var WL=[[0.0,1],[1.8,0.96],[2.88,0.88],[3.78,0.66],[4.5,0.46],[5.22,0.25],[5.76,0.13],[6.57,0.03],[7.65,0],[20,0]];
var WR=[[0.0,1],[1.656,0.97],[2.852,0.86],[4.048,0.55],[4.968,0.38],[6.072,0.19],[7.176,0.07],[8.676,0.015],[10.12,0],[20,0]];
var WX=[[0.0,1],[1.17,0.96],[1.89,0.88],[2.745,0.63],[3.6,0.45],[4.41,0.29],[5.31,0.14],[6.3,0.04],[7.65,0],[20,0]];
draw('c1',function(i,j,w,h){var z=-10+20*i/w,x=10-20*j/h;
 var t=ss((z+3)/6);var A=2.55-0.3*t;var C=5.4-0.1*t;
 var Sx=sinterp(SXL,Math.abs(x))*(1-t)+sinterp(SXR,Math.abs(x))*t;
 var E=A+(C-A)*sinterp(SZ,z)*Sx;
 var dz=z-0.57;var Lz=dz<0?5.6:4.4,Lx=4.6;var a=dz/Lz,b=(x+0.3)/Lx;var r2=a*a+b*b;var W;
 if(r2<1e-9)W=1;else{var rho=Math.sqrt(r2);var wz=a*a/r2,wx=b*b/r2;W=wz*sinterp(dz<0?WL:WR,rho*Lz)+wx*sinterp(WX,rho*Lx);}
 return E*(1-W)/5.4;});
var VMIN=[[-10,0.05],[-6,0.03],[-3,0.02],[0,0.035],[3,0.06],[5,0.07],[7,0.07],[9,0.055],[10,0.05]];
var VMAX=[[-10,0.375],[-6,0.35],[-3,0.33],[0,0.35],[3,0.39],[5,0.41],[8,0.415],[10,0.41]];
draw('c2',function(i,j,w,h){var z=-10+20*i/w,x=10-20*j/h;
 var vmin=sinterp(VMIN,z);
 var vmax=sinterp(VMAX,z);
 var p=z<=0?1:1-0.028*z;
 var R=Math.pow((1-Math.cos(Math.PI*x/10))/2,p);return (vmin+(vmax-vmin)*R)/0.416;});

</script>
</body></html>
